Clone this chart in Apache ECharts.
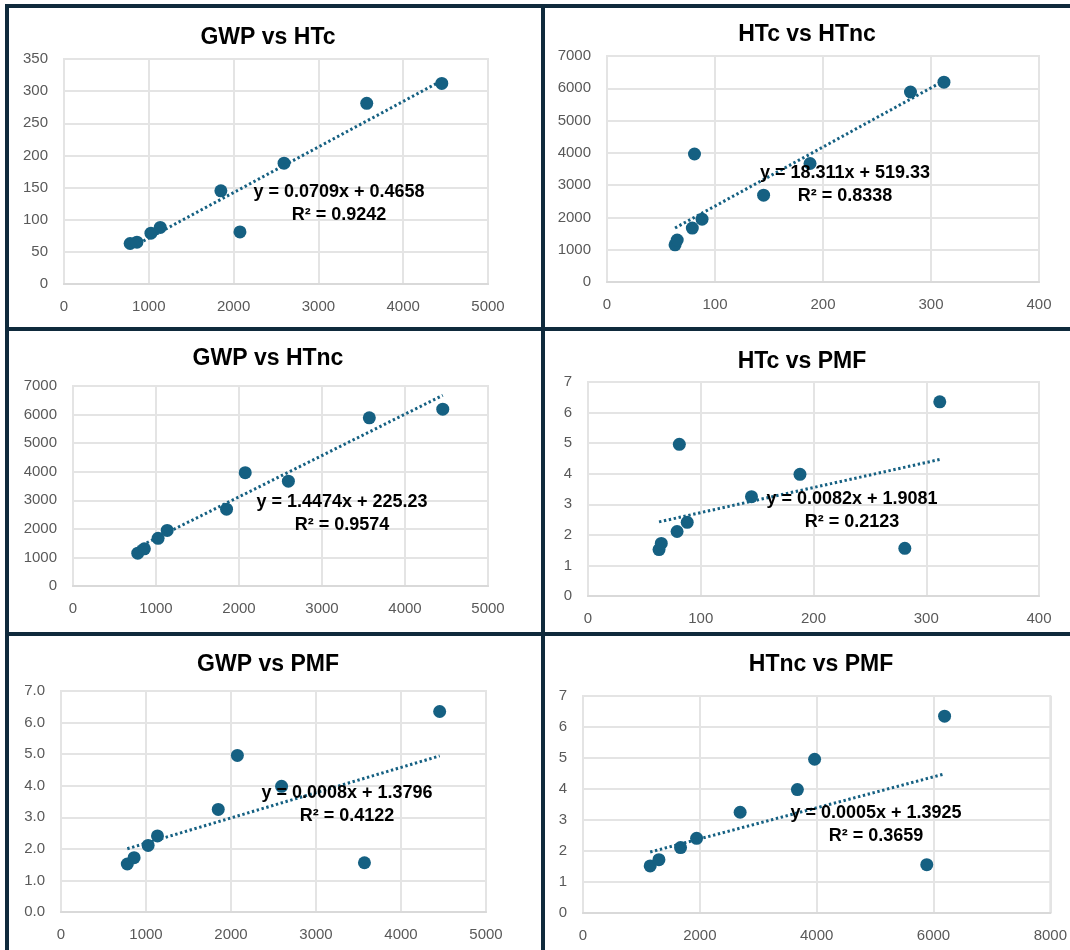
<!DOCTYPE html>
<html>
<head>
<meta charset="utf-8">
<script src="https://cdn.jsdelivr.net/npm/echarts@6/dist/echarts.min.js"></script>
<style>
html,body{margin:0;padding:0;background:#fff;}
#chart{width:1070px;height:950px;}
</style>
</head>
<body>
<div id="chart"></div>
<script>
// ---- data (9 items) ----
const gwp  = [780, 860, 1025, 1135, 1850, 2075, 2595, 3570, 4455];
const htc  = [63, 65, 79, 88, 145, 81, 188, 281, 312];
const htnc = [1150, 1300, 1670, 1945, 2690, 3965, 3670, 5885, 6190];
const pmf  = [1.52, 1.72, 2.11, 2.41, 3.25, 4.96, 3.98, 1.56, 6.35];

// ---- panels ----
const titles = ['GWP vs HTc', 'HTc vs HTnc', 'GWP vs HTnc', 'HTc vs PMF', 'GWP vs PMF', 'HTnc vs PMF'];
const xSeries = [gwp, htc, gwp, htc, gwp, htnc];
const ySeries = [htc, htnc, htnc, pmf, pmf, pmf];
// trendline coefficients as shown in the chart labels
const slopes     = [0.0709, 18.311, 1.4474, 0.0082, 0.0008, 0.0005];
const intercepts = [0.4658, 519.33, 225.23, 1.9081, 1.3796, 1.3925];
const rSquared   = [0.9242, 0.8338, 0.9574, 0.2123, 0.4122, 0.3659];
// axis ranges / tick intervals
const xMax = [5000, 400, 5000, 400, 5000, 8000];
const xInterval = [1000, 100, 1000, 100, 1000, 2000];
const yMax = [350, 7000, 7000, 7, 7, 7];
const yInterval = [50, 1000, 1000, 1, 1, 1];
const yDecimals = [0, 0, 0, 0, 1, 0];

// ---- layout (pixels) ----
const gridBoxes = [
  {left: 64,  top: 59,  width: 424, height: 225},
  {left: 607, top: 56,  width: 432, height: 226},
  {left: 73,  top: 386, width: 415, height: 200},
  {left: 588, top: 382, width: 451, height: 214},
  {left: 61,  top: 691, width: 425, height: 221},
  {left: 583, top: 696, width: 474, height: 217}
];
const titlePos = [[268, 38], [807, 35], [268, 359], [802, 362], [268, 665], [821, 665]];
const eqPos = [[339, 192], [845, 173], [342, 502], [852, 499], [347, 793], [876, 813]];

const COLOR = '#156082';
const BORDER = '#0f2a3c';
const GRIDC = '#e4e4e4';
const FONT = '"Liberation Sans", Arial, sans-serif';

const grids = [], xAxes = [], yAxes = [], series = [], graphics = [];

for (let i = 0; i < 6; i++) {
  grids.push(Object.assign({
    containLabel: false, show: true, borderColor: GRIDC, borderWidth: 2, backgroundColor: 'transparent'
  }, gridBoxes[i]));
  xAxes.push({
    type: 'value', gridIndex: i, min: 0, max: xMax[i], interval: xInterval[i],
    axisLine: {show: true, lineStyle: {color: '#d9d9d9', width: 2}},
    axisTick: {show: false},
    splitLine: {show: true, lineStyle: {color: GRIDC, width: 2}},
    axisLabel: {color: '#595959', fontSize: 15, fontFamily: FONT, margin: 15,
      showMaxLabel: true, showMinLabel: true, formatter: v => String(v)}
  });
  const dec = yDecimals[i];
  yAxes.push({
    type: 'value', gridIndex: i, min: 0, max: yMax[i], interval: yInterval[i],
    axisLine: {show: true, lineStyle: {color: GRIDC, width: 2}},
    axisTick: {show: false},
    splitLine: {show: true, lineStyle: {color: GRIDC, width: 2}},
    axisLabel: {color: '#595959', fontSize: 15, fontFamily: FONT, margin: 16,
      formatter: v => v.toFixed(dec)}
  });
  const xs = xSeries[i], ys = ySeries[i];
  const pts = xs.map((x, k) => [x, ys[k]]);
  series.push({
    type: 'scatter', xAxisIndex: i, yAxisIndex: i, data: pts,
    symbol: 'circle', symbolSize: 13, itemStyle: {color: COLOR, opacity: 1}, z: 3, silent: true
  });
  const x0 = Math.min.apply(null, xs), x1 = Math.max.apply(null, xs);
  series.push({
    type: 'line', xAxisIndex: i, yAxisIndex: i,
    data: [[x0, slopes[i] * x0 + intercepts[i]], [x1, slopes[i] * x1 + intercepts[i]]],
    symbol: 'none', silent: true, z: 4,
    lineStyle: {color: COLOR, width: 3, type: [2.4, 2.6], cap: 'butt', opacity: 1}
  });

  graphics.push({
    type: 'text', x: titlePos[i][0], y: titlePos[i][1], z: 10,
    style: {text: titles[i], fill: '#000', font: 'bold 23px ' + FONT, textAlign: 'center', textVerticalAlign: 'middle'}
  });
  graphics.push({
    type: 'text', x: eqPos[i][0], y: eqPos[i][1], z: 10,
    style: {text: 'y = ' + String(slopes[i]) + 'x + ' + String(intercepts[i]), fill: '#000',
      font: 'bold 18px ' + FONT, textAlign: 'center', textVerticalAlign: 'middle'}
  });
  graphics.push({
    type: 'text', x: eqPos[i][0], y: eqPos[i][1] + 23, z: 10,
    style: {text: 'R\u00B2 = ' + String(rSquared[i]), fill: '#000',
      font: 'bold 18px ' + FONT, textAlign: 'center', textVerticalAlign: 'middle'}
  });
}

// panel frame lines
const frame = [
  [5, 6, 1070, 6], [7, 4, 7, 950], [543, 4, 543, 950], [5, 329, 1070, 329], [5, 634, 1070, 634]
];
frame.forEach(f => graphics.push({
  type: 'line', z: 20, shape: {x1: f[0], y1: f[1], x2: f[2], y2: f[3]},
  style: {stroke: BORDER, lineWidth: 4}
}));

const chart = echarts.init(document.getElementById('chart'), null, {renderer: 'canvas'});
chart.setOption({
  animation: false,
  backgroundColor: '#ffffff',
  grid: grids, xAxis: xAxes, yAxis: yAxes, series: series, graphic: graphics
});
</script>
</body>
</html>
